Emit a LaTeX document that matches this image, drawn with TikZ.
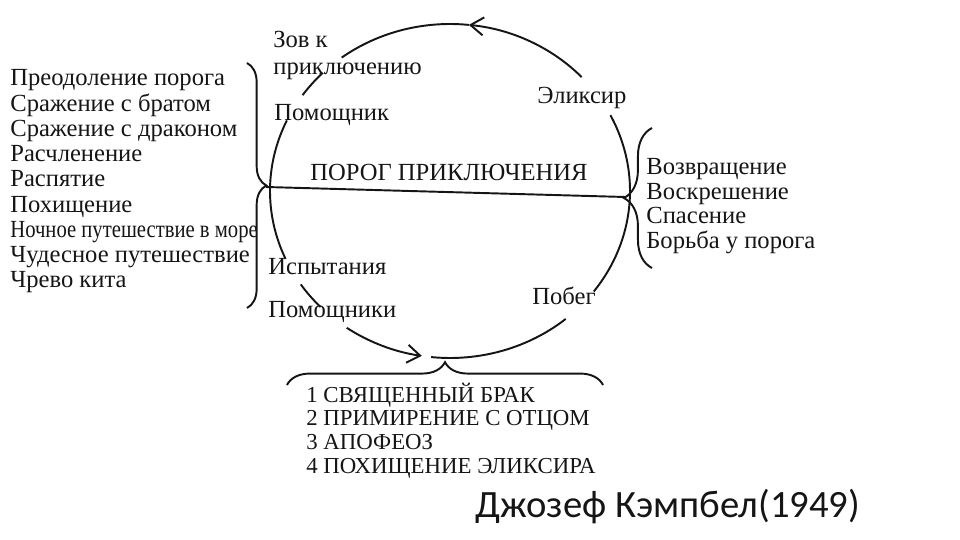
\documentclass[tikz,border=0pt]{standalone}
\usepackage{fontspec}
\setmainfont{Liberation Serif}
\newfontfamily\signfont{Carlito}
\usepackage{tikz}
\usetikzlibrary{arrows.meta, decorations.pathreplacing}
\definecolor{ink}{HTML}{151515}
\tikzstyle{ring}=[line width=1.1pt,color=ink]
\tikzstyle{arr}=[-{Straight Barb[length=2.6mm,width=3.6mm]},line width=1.1pt,color=ink]
\tikzstyle{brc}=[decorate,line width=1.1pt,color=ink]
\tikzstyle{lbl}=[inner sep=0pt,anchor=base west,text=ink,font=\fontsize{14}{15}\selectfont]
\tikzstyle{caps}=[inner sep=0pt,anchor=base west,text=ink,font=\fontsize{13}{14}\selectfont]

\begin{document}
\begin{tikzpicture}[x=0.02cm,y=-0.02cm]
  \useasboundingbox (0,0) rectangle (960,540);
  \coordinate (c) at (450,191);
  % circle, broken where the labels sit
  \foreach \a/\b in {-84/-127, -135/-145, 205/156, 146/136, 96/50, 37/-27} {
    \draw[ring] (c) ++(\a:180 and 167) arc[start angle=\a,end angle=\b,x radius=180,y radius=167];
  }
  \draw[arr] (c) ++(-43:180 and 167) arc[start angle=-43,end angle=-84,x radius=180,y radius=167];
  \draw[arr] (c) ++(125:180 and 167) arc[start angle=125,end angle=99,x radius=180,y radius=167];
  % labels round the circle
  \node[lbl] (call) at (273,48) {Зов к};
  \node[lbl] (call2) at (273,75) {приключению};
  \node[lbl] (helper) at (274,121) {Помощник};
  \node[lbl] (elixir) at (537,104) {Эликсир};
  \node[lbl] (threshold) at (310,181) {ПОРОГ ПРИКЛЮЧЕНИЯ};
  \node[lbl] (trials) at (268,275) {Испытания};
  \node[lbl] (helpers) at (268,318) {Помощники};
  \node[lbl] (flight) at (532,305) {Побег};
  % braces
  \coordinate (lbt) at (247,63);
  \coordinate (lbb) at (247,308);
  \draw[brc,decoration={brace,amplitude=11pt}] (lbt) -- (lbb);
  \coordinate (rbt) at (652,128);
  \coordinate (rbb) at (652,268);
  \draw[brc,decoration={brace,amplitude=16pt}] (rbb) -- (rbt);
  \coordinate (bbl) at (287,385);
  \coordinate (bbr) at (603,385);
  \draw[brc,decoration={brace,amplitude=13pt}] (bbl) -- (bbr);
  \coordinate (ltip) at (266,187);
  \coordinate (rtip) at (625,197);
  \draw[ring] (ltip) -- (rtip);
  % the lists
  \foreach \t [count=\i] in {Преодоление порога, Сражение с братом, Сражение с драконом,
      Расчленение, Распятие, Похищение, {\scalebox{0.84}[1]{Ночное путешествие в море}},
      Чудесное путешествие, Чрево кита} {
    \node[lbl] (lft\i) at (10,60.75+25.25*\i) {\t};
  }
  \foreach \t [count=\i] in {Возвращение, Воскрешение, Спасение, Борьба у порога} {
    \node[lbl] (rgt\i) at (646,150.6+24.4*\i) {\t};
  }
  \foreach \t [count=\i] in {СВЯЩЕННЫЙ БРАК, ПРИМИРЕНИЕ С ОТЦОМ, АПОФЕОЗ, ПОХИЩЕНИЕ ЭЛИКСИРА} {
    \node[caps] (btm\i) at (306,378.3+23.7*\i) {\i\ \t};
  }
  \node[inner sep=0pt,anchor=base west,text=ink,font=\signfont\fontsize{22}{24}\selectfont] (author) at (475,517) {Джозеф Кэмпбел(1949)};
\end{tikzpicture}
\end{document}
